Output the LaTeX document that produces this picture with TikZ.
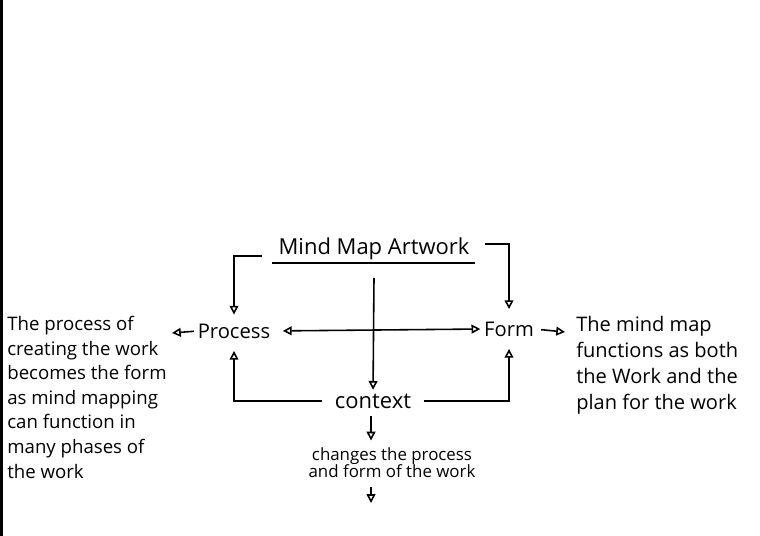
\documentclass[tikz,border=0pt]{standalone}
\usepackage{fontspec}
\setmainfont{Open Sans}
\usetikzlibrary{arrows.meta}
\tikzset{
	tip/.style={line width=0.9pt, -{Triangle[open,length=5pt,width=5pt]}},
	bigword/.style={inner sep=0pt, font=\fontsize{11.5}{13}\selectfont},
	blurb/.style={inner sep=0pt, align=left, anchor=north west},
}
\begin{document}
\begin{tikzpicture}[x=0.02cm,y=-0.02cm]
		\useasboundingbox (0,0) rectangle (760,536);
		\fill (0,0) rectangle (3,536);
		% middle words
		\node [inner sep=0pt, font=\fontsize{12.5}{14}\selectfont] (title) at (374,249) {Mind Map Artwork};
		\draw [line width=0.9pt] (272,263) -- (475,263);
		\node [bigword] (proc) at (234,331) {Process};
		\node [bigword] (form) at (509,329) {Form};
		\node [bigword, font=\fontsize{12.5}{14}\selectfont] (ctx) at (373,401) {context};
		\node [inner sep=0pt, align=center, font=\fontsize{9.6}{9.8}\selectfont] (note) at (392,463) {changes the process\\and form of the work};
		% side texts
		\node [blurb, font=\fontsize{10.6}{14}\selectfont] (lefttext) at (7,316) {The process of\\creating the work\\becomes the form\\as mind mapping\\can function in\\many phases of\\the work};
		\node [blurb, font=\fontsize{11.4}{14.7}\selectfont] (righttext) at (576,316) {The mind map\\functions as both\\the Work and the\\plan for the work};
		% connectors
		\coordinate (tl) at (262,256);
		\coordinate (tr) at (485,244);
		\coordinate (ts) at (374,278);
		\coordinate (pl) at (172,333);
		\coordinate (fr) at (565,332);
		\coordinate (end) at (371,503);
		\draw [tip, shorten >=5pt] (tl) -| (proc.north);
		\draw [tip, shorten >=7pt] (tr) -| (form.north);
		\draw [tip, shorten >=2pt] (ts) -- (ctx.north);
		\draw [line width=0.9pt, {Triangle[open,length=5pt,width=5pt]}-{Triangle[open,length=5pt,width=5pt]}, shorten <=7pt, shorten >=2pt] (proc.east) -- (form.west);
		\draw [tip, shorten <=2pt] (proc.west) -- (pl);
		\draw [tip, shorten <=4pt] (form.east) -- (fr);
		\draw [tip, shorten <=7pt, shorten >=7pt] (ctx.west) -| (proc.south);
		\draw [tip, shorten <=7pt, shorten >=7pt] (ctx.east) -| (form.south);
		\draw [tip, shorten <=4pt, shorten >=4pt] (ctx.south -| end) -- (note.north -| end);
		\draw [tip, shorten <=5pt] (note.south -| end) -- (end);
\end{tikzpicture}
\end{document}
